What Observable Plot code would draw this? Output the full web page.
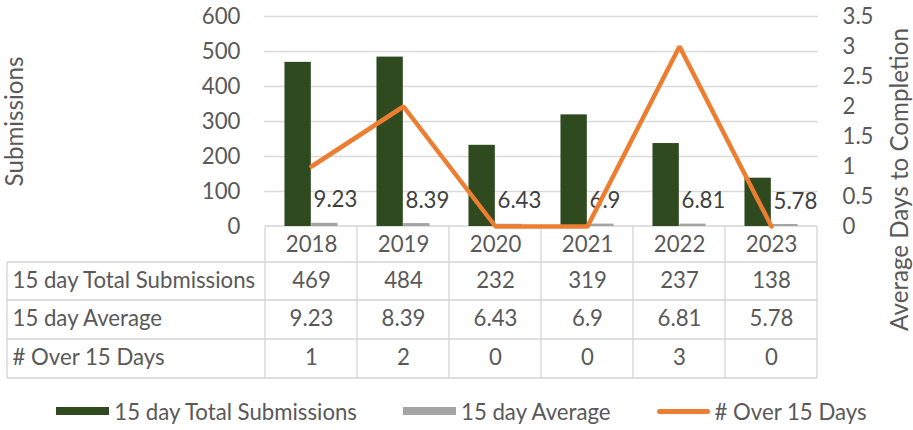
<!DOCTYPE html>
<html>
<head>
<meta charset="utf-8">
<script src="https://cdn.jsdelivr.net/npm/d3@7"></script>
<script src="https://cdn.jsdelivr.net/npm/@observablehq/plot@0.6"></script>
<style>
  html, body { margin: 0; padding: 0; background: #ffffff; }
  #wrap { width: 913px; height: 430px; position: relative; overflow: hidden; font-family: Lato, "Open Sans", sans-serif; color: #595959; }
  #legend { display: flex; justify-content: center; align-items: center; height: 38px; gap: 46px; padding-left: 10px; box-sizing: border-box; }
  #legend .item { display: flex; align-items: center; white-space: nowrap; }
  #legend .sw { display: inline-block; width: 53px; margin-right: 5px; }
</style>
</head>
<body>
<div id="wrap"><div id="chart"></div><div id="legend"></div></div>
<script>
// ---- data ----
const years = ["2018", "2019", "2020", "2021", "2022", "2023"];
const totalSubmissions = [469, 484, 232, 319, 237, 138];
const avgDays = [9.23, 8.39, 6.43, 6.9, 6.81, 5.78];
const over15Days = [1, 2, 0, 0, 3, 0];
const seriesNames = ["15 day Total Submissions", "15 day Average", "# Over 15 Days"];
const leftTicks = [0, 100, 200, 300, 400, 500, 600];
const rightTicks = [0, 0.5, 1, 1.5, 2, 2.5, 3, 3.5];
const leftTitle = "Submissions";
const rightTitle = "Average Days to Completion";

// ---- styling ----
const GREEN = "#2E4A1E", GRAY = "#A5A5A5", ORANGE = "#ED7D31";
const TEXT = "#595959", LINE = "#D9D9D9";

// fit Lato to the reference text widths
const ctx = document.createElement("canvas").getContext("2d");
ctx.font = "100px Lato";
const wRef = ctx.measureText(seriesNames[0]).width;
const FS = Math.min(24, 244 / wRef * 100);
const FT = Math.min(26.67, 308 / ctx.measureText(rightTitle).width * 100, 130 / ctx.measureText(leftTitle).width * 100);

const W = 913, H = 392;
const mTop = 16, mBottom = 166, mLeft = 264, mRight = 95;
const frameBottom = H - mBottom; // 226
const frameMid = (mTop + frameBottom) / 2;
const rowBorders = [262, 300, 339, 378];
const rowCenters = [244, 280, 318.5, 357.5];

const leftMax = leftTicks[leftTicks.length - 1];
const rightMax = rightTicks[rightTicks.length - 1];
const k = leftMax / rightMax; // right axis mapped into left units

const data = years.map((y, i) => ({
  year: y, total: totalSubmissions[i], avg: avgDays[i], over: over15Days[i], overScaled: over15Days[i] * k
}));

const bw = (W - mLeft - mRight) / years.length;
const barW = 26.7;

const rowText = [d => String(d.total), d => String(d.avg), d => String(d.over)];

const marks = [
  Plot.ruleY(leftTicks.filter(t => t > 0), {stroke: LINE, strokeWidth: 1.3}),
  Plot.barY(data, {x: "year", y: "total", fill: GREEN, insetLeft: bw / 2 - barW, insetRight: bw / 2}),
  Plot.barY(data, {x: "year", y: "avg", fill: GRAY, insetLeft: bw / 2, insetRight: bw / 2 - barW}),
  Plot.text(data, {x: "year", y: "avg", text: d => String(d.avg), textAnchor: "start", lineAnchor: "middle", dx: 2, dy: -23, fill: "#404040"}),
  Plot.line(data, {x: "year", y: "overScaled", stroke: ORANGE, strokeWidth: 4.5, strokeLinejoin: "miter"}),
  Plot.axisY(leftTicks, {anchor: "left", tickSize: 0, tickPadding: 24, label: null, fill: TEXT}),
  Plot.axisY(rightTicks.map(v => v * k), {anchor: "right", tickSize: 0, tickPadding: 24, label: null, fill: TEXT,
    tickFormat: d => d3.format("~g")(+(d / k).toFixed(3))}),
  Plot.text([leftTitle], {frameAnchor: "left", textAnchor: "middle", lineAnchor: "middle", rotate: -90,
    dx: 15 - mLeft, dy: 121 - frameMid, fontSize: FT, fill: TEXT}),
  Plot.text([rightTitle], {frameAnchor: "right", textAnchor: "middle", lineAnchor: "middle", rotate: -90,
    dx: 900 - (W - mRight), dy: 179 - frameMid, fontSize: FT, fill: TEXT}),
  Plot.text(years, {x: d => d, text: d => d, frameAnchor: "bottom", lineAnchor: "middle", dy: rowCenters[0] - frameBottom, fill: TEXT})
];
rowText.forEach((fn, r) => {
  marks.push(Plot.text(data, {x: "year", text: fn, frameAnchor: "bottom", lineAnchor: "middle", dy: rowCenters[r + 1] - frameBottom, fill: TEXT}));
  marks.push(Plot.text([seriesNames[r]], {frameAnchor: "bottom-left", textAnchor: "start", lineAnchor: "middle", dx: 12 - mLeft, dy: rowCenters[r + 1] - frameBottom, fill: TEXT}));
});

const plot = Plot.plot({
  width: W, height: H,
  marginTop: mTop, marginBottom: mBottom, marginLeft: mLeft, marginRight: mRight,
  style: {fontFamily: "Lato, 'Open Sans', sans-serif", fontSize: FS + "px", color: TEXT, background: "#ffffff", overflow: "visible"},
  x: {type: "band", domain: years, padding: 0, axis: null},
  y: {domain: [0, leftMax]},
  marks
});
document.getElementById("chart").appendChild(plot);

// ---- data-table borders, positioned from the plot's x scale ----
const xs = plot.scale("x");
const edges = years.map(y => xs.apply(y));
edges.push(edges[edges.length - 1] + xs.bandwidth);
const svg = d3.select(plot);
const g = svg.insert("g", ":first-child").attr("stroke", "#D4D4D4").attr("stroke-width", 1.3);
const x0 = edges[0], x1 = edges[edges.length - 1], tableLeft = 7;
g.append("line").attr("x1", x0).attr("x2", x1).attr("y1", frameBottom).attr("y2", frameBottom);
rowBorders.forEach(y => g.append("line").attr("x1", tableLeft).attr("x2", x1).attr("y1", y).attr("y2", y));
edges.forEach(x => g.append("line").attr("x1", x).attr("x2", x).attr("y1", frameBottom).attr("y2", rowBorders[rowBorders.length - 1]));
g.append("line").attr("x1", tableLeft).attr("x2", tableLeft).attr("y1", rowBorders[0]).attr("y2", rowBorders[rowBorders.length - 1]);

// ---- legend ----
const legend = d3.select("#legend").style("font-size", FS + "px");
const swatches = [
  {name: seriesNames[0], color: GREEN, h: 8},
  {name: seriesNames[1], color: GRAY, h: 8},
  {name: seriesNames[2], color: ORANGE, h: 5}
];
swatches.forEach(s => {
  const it = legend.append("div").attr("class", "item");
  it.append("span").attr("class", "sw").style("background", s.color).style("height", s.h + "px")
    .style("border-radius", s.h === 5 ? "3px" : "0");
  it.append("span").text(s.name);
});
</script>
</body>
</html>
